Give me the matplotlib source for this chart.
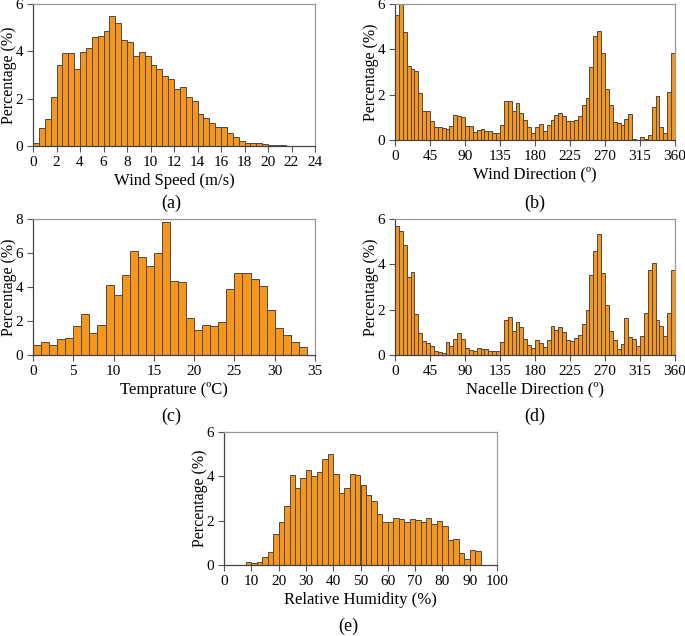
import numpy as np
import matplotlib
matplotlib.use("Agg")
import matplotlib.pyplot as plt

plt.rcParams['font.family'] = ['Liberation Serif', 'DejaVu Serif']

# Wind speed (m/s), bins of 0.5 from 0 to 24
speed_edges = np.arange(0, 24.01, 0.5)
speed_pct = [0.12, 0.75, 1.14, 2.06, 3.41, 3.92, 3.94, 3.27, 3.96, 4.13,
             4.59, 4.65, 4.85, 5.51, 5.21, 4.49, 4.39, 3.79, 3.96, 3.80,
             3.42, 3.27, 2.96, 2.82, 2.39, 2.48, 2.06, 1.90, 1.37, 1.17,
             0.96, 0.80, 0.80, 0.54, 0.38, 0.23, 0.13, 0.11, 0.11, 0.07,
             0.03, 0.03, 0.03, 0.01, 0.01, 0.01, 0.01, 0.0]

# Wind direction (deg), bins of 5
dir_edges = np.arange(0, 360.1, 5)
wind_dir_pct = [5.53, 6.0, 4.77, 3.28, 3.14, 3.04, 2.06, 1.27, 1.26, 0.83,
                0.58, 0.57, 0.55, 0.50, 0.61, 1.09, 1.05, 1.02, 0.60, 0.61,
                0.36, 0.45, 0.50, 0.39, 0.39, 0.31, 0.31, 0.66, 1.71, 1.71,
                1.30, 1.62, 1.18, 0.89, 0.58, 0.32, 0.58, 0.70, 0.41, 0.64,
                0.89, 1.09, 1.17, 1.07, 0.85, 0.85, 0.88, 1.05, 1.53, 1.84,
                3.20, 4.58, 4.79, 3.85, 2.25, 1.53, 0.79, 0.74, 0.67, 0.93,
                1.14, 0.03, 0.0, 0.15, 0.06, 0.23, 1.47, 1.94, 0.58, 0.29,
                2.10, 3.82]

# Temperature (C), bins of 1
temp_edges = np.arange(0, 35.1, 1)
temp_pct = [0.59, 0.78, 0.59, 0.94, 1.02, 1.72, 2.43, 1.31, 1.78, 4.09,
            3.52, 4.72, 6.11, 5.75, 5.26, 6.01, 7.85, 4.38, 4.27, 2.15,
            1.47, 1.78, 1.70, 1.96, 3.89, 4.85, 4.85, 4.50, 4.03, 2.62,
            1.57, 1.15, 0.74, 0.45, 0.02]

# Nacelle direction (deg), bins of 5
nacelle_pct = [5.68, 5.49, 4.85, 3.46, 3.68, 1.82, 0.99, 0.63, 0.54, 0.38,
               0.16, 0.15, 0.09, 0.57, 0.38, 0.72, 0.97, 0.72, 0.29, 0.24,
               0.16, 0.32, 0.25, 0.25, 0.16, 0.16, 0.16, 0.59, 1.56, 1.69,
               1.07, 1.46, 1.22, 0.72, 0.46, 0.29, 0.66, 0.54, 0.37, 0.68,
               1.29, 1.12, 1.25, 1.03, 0.68, 0.63, 0.75, 0.90, 1.37, 2.00,
               3.54, 4.60, 5.35, 3.63, 2.19, 1.07, 0.65, 0.25, 0.49, 1.62,
               0.81, 0.71, 0.38, 0.85, 1.85, 3.75, 4.06, 1.53, 1.26, 0.85,
               1.85, 3.76]

# Relative humidity (%), bins of 2 from 8 to 94
rh_edges = np.arange(8, 94.1, 2)
rh_pct = [0.12, 0.09, 0.15, 0.37, 0.58, 1.39, 1.92, 2.66, 4.07, 3.47,
          3.94, 4.27, 4.00, 4.18, 4.76, 5.01, 4.09, 3.26, 3.46, 4.09,
          4.06, 3.61, 3.14, 2.87, 2.31, 1.96, 1.93, 2.14, 2.07, 1.96,
          2.07, 2.04, 1.96, 2.13, 1.86, 1.98, 1.78, 1.14, 1.17, 0.52,
          0.28, 0.69, 0.63]

W, H = 685, 636
fig = plt.figure(figsize=(W / 100, H / 100), dpi=100, facecolor='white')

BAR = '#F7961C'
EDGE = '#4a4a4a'
YLAB_OFFSET = 24  # px from the left spine to the y-label centre


def make_ax(left, top, right, bottom):
    ax = fig.add_axes([left / W, 1 - bottom / H, (right - left) / W, (bottom - top) / H])
    return ax, right - left


def draw(ax, width_px, edges, vals, xlim, xticks, ylim, yticks, xlabel, tag, tag_xy):
    edges = np.asarray(edges)
    ax.bar(edges[:-1], vals, width=np.diff(edges), align='edge',
           color=BAR, edgecolor=EDGE, linewidth=0.7)
    ax.set_xlim(*xlim)
    ax.set_ylim(*ylim)
    ax.set_xticks(xticks)
    ax.set_yticks(yticks)
    ax.tick_params(labelsize=11, length=4, width=0.8, color='#555', pad=3)
    for s in ['left', 'bottom']:
        ax.spines[s].set_color('#444')
        ax.spines[s].set_linewidth(0.9)
    for s in ['top', 'right']:
        ax.spines[s].set_color('#999')
        ax.spines[s].set_linewidth(0.9)
    ax.set_xlabel(xlabel, fontsize=12, labelpad=3)
    ax.set_ylabel('Percentage (%)', fontsize=11.5, va='center')
    ax.yaxis.set_label_coords(-YLAB_OFFSET / width_px, 0.5)
    fig.text(tag_xy[0] / W, 1 - tag_xy[1] / H, tag, ha='center', va='center', fontsize=13)


deg_ticks = np.arange(0, 361, 45)

ax_a, w_a = make_ax(33, 4, 315, 146)
draw(ax_a, w_a, speed_edges, speed_pct, (0, 24), np.arange(0, 25, 2), (0, 6), [0, 2, 4, 6],
     'Wind Speed (m/s)', '(a)', (171, 203))

ax_b, w_b = make_ax(395, 4, 675, 140)
draw(ax_b, w_b, dir_edges, wind_dir_pct, (0, 360), deg_ticks, (0, 6), [0, 2, 4, 6],
     'Wind Direction (º)', '(b)', (535, 203))

ax_c, w_c = make_ax(33, 219, 315, 355)
draw(ax_c, w_c, temp_edges, temp_pct, (0, 35), np.arange(0, 36, 5), (0, 8), [0, 2, 4, 6, 8],
     'Temprature (ºC)', '(c)', (171, 416))

ax_d, w_d = make_ax(395, 219, 675, 355)
draw(ax_d, w_d, dir_edges, nacelle_pct, (0, 360), deg_ticks, (0, 6), [0, 2, 4, 6],
     'Nacelle Direction (º)', '(d)', (535, 416))

ax_e, w_e = make_ax(224, 432, 497, 565)
draw(ax_e, w_e, rh_edges, rh_pct, (0, 100), np.arange(0, 101, 10), (0, 6), [0, 2, 4, 6],
     'Relative Humidity (%)', '(e)', (348, 626))

fig.savefig('out.png', dpi=100, facecolor='white')
